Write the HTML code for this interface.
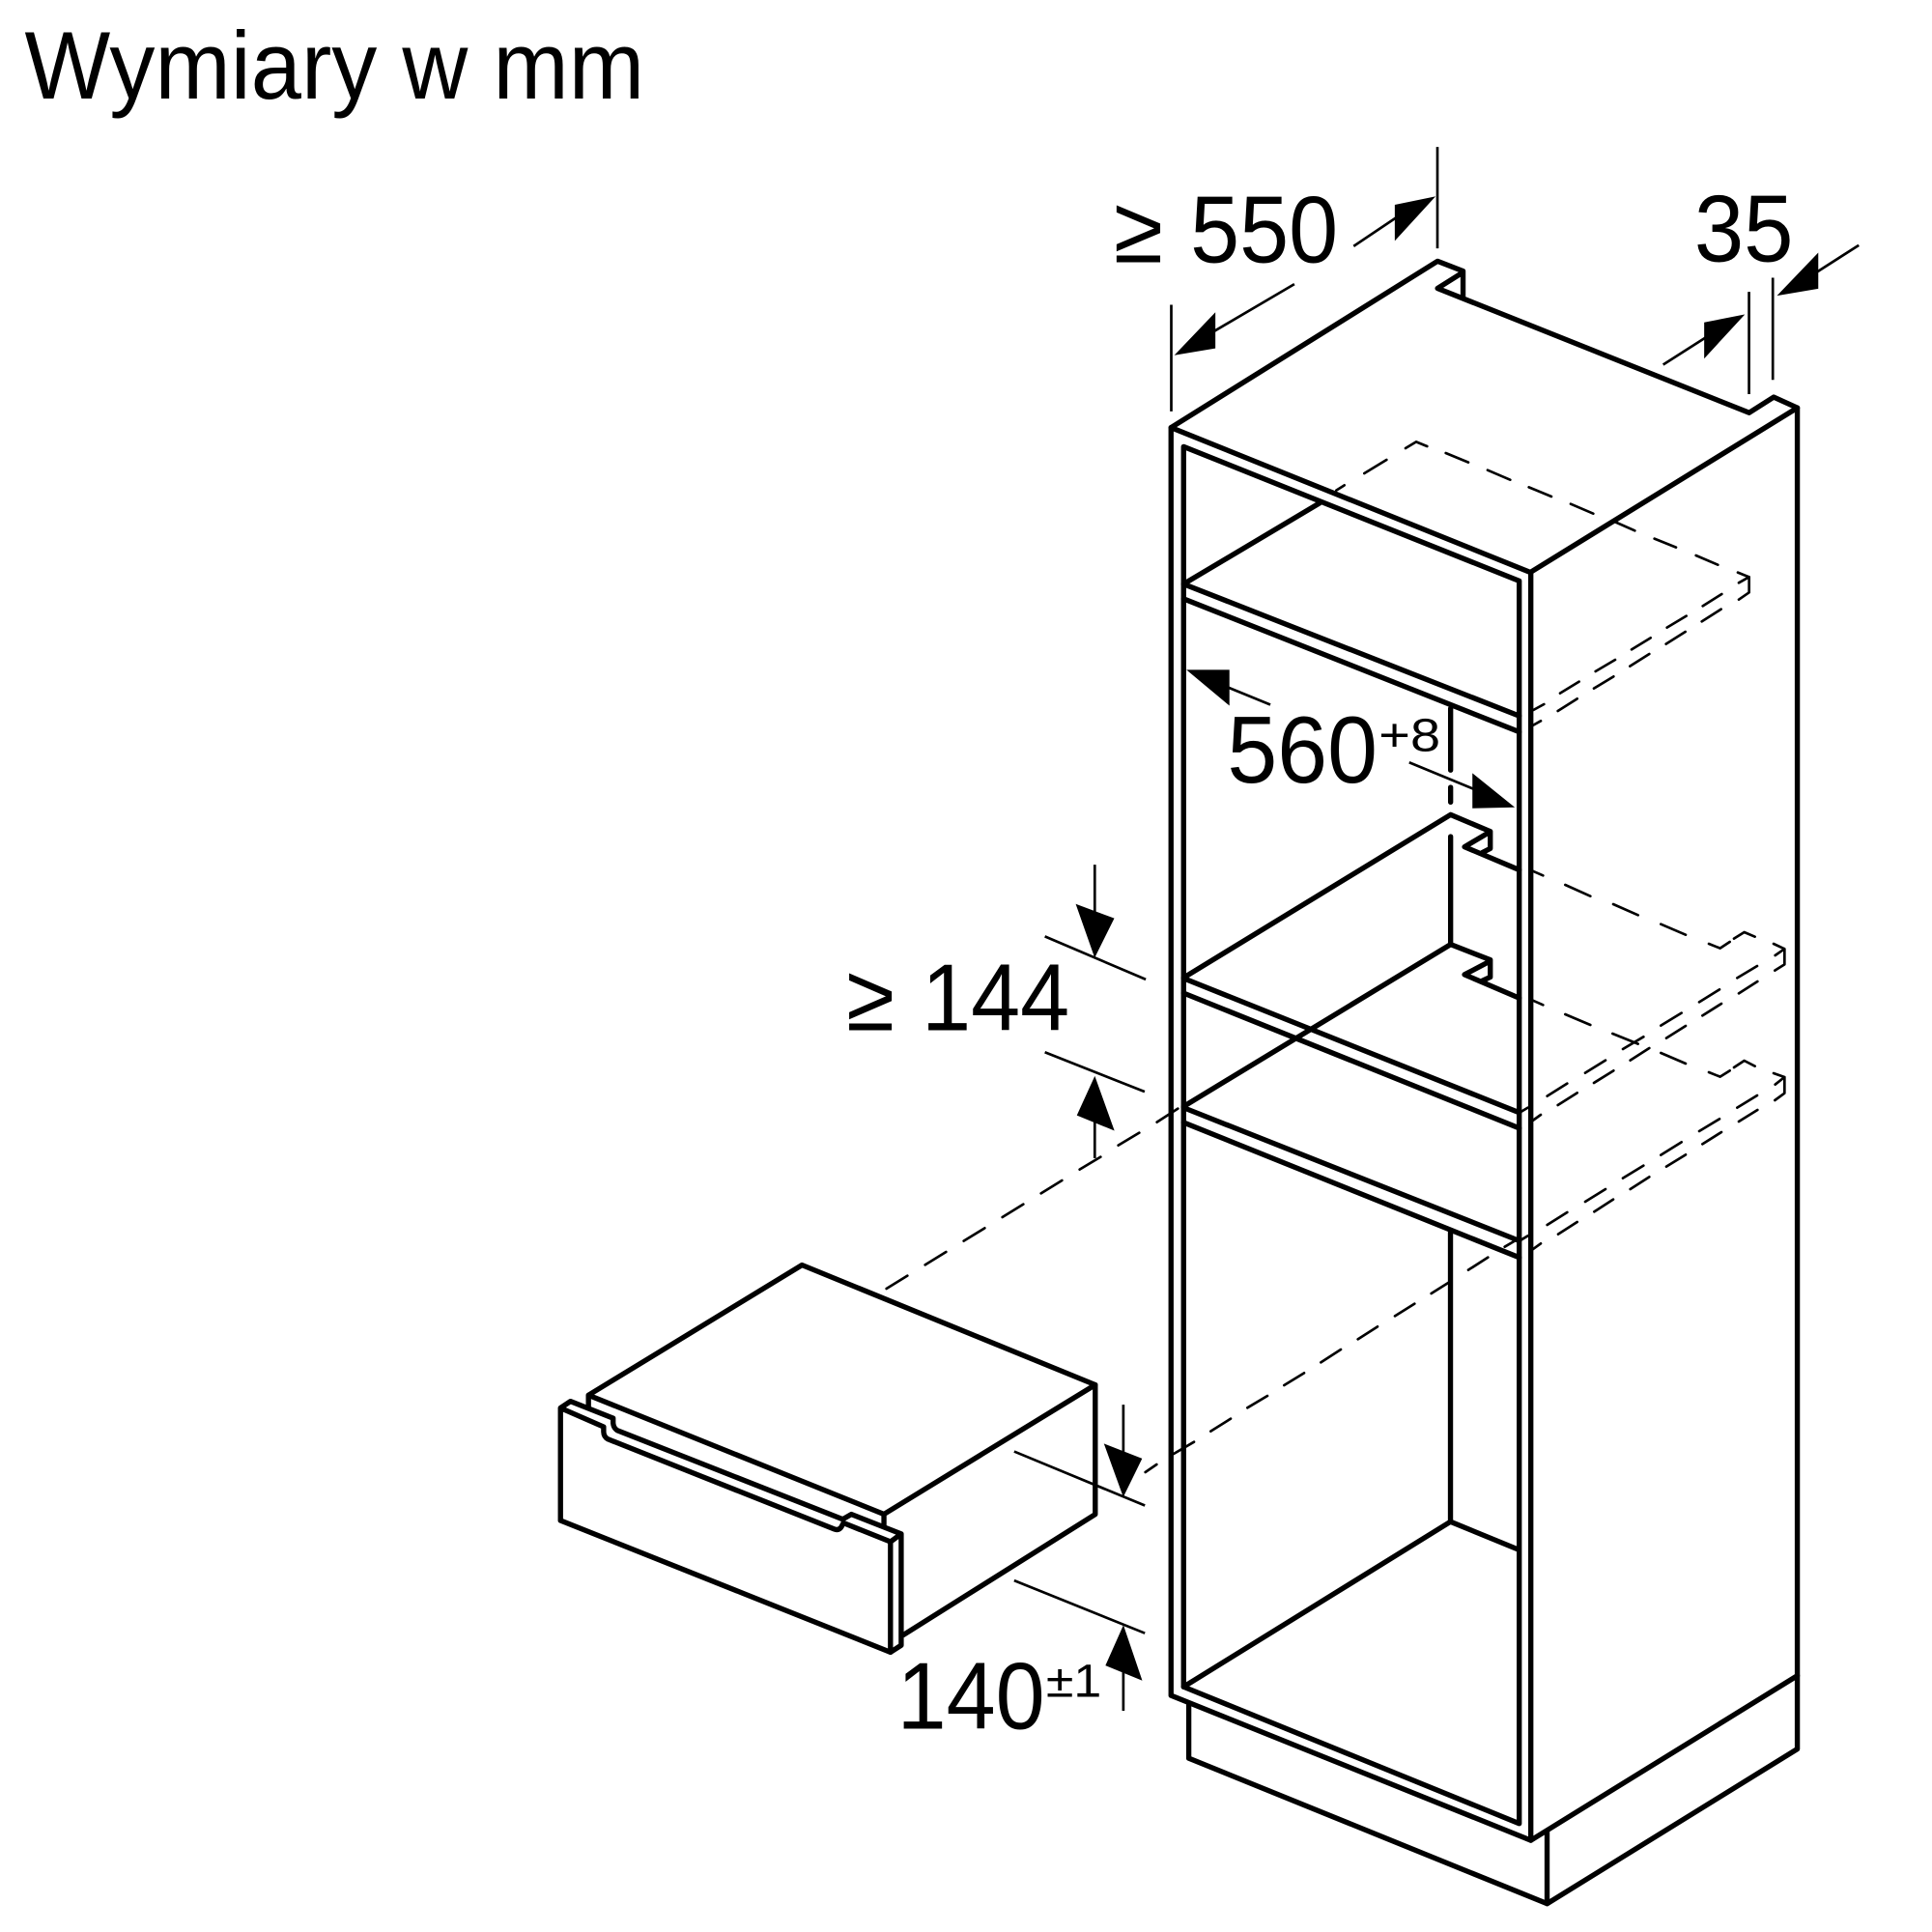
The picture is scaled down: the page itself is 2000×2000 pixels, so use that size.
<!DOCTYPE html>
<html><head><meta charset="utf-8"><style>html,body{margin:0;padding:0;background:#fff}svg{display:block}text{font-family:"Liberation Sans",sans-serif;fill:#000}</style></head><body>
<svg xmlns="http://www.w3.org/2000/svg" width="2000" height="2000" viewBox="0 0 1568 1568">
<rect width="1568" height="1568" fill="#fff"/>
<text x="20" y="80" font-size="78" textLength="503" lengthAdjust="spacingAndGlyphs">Wymiary w mm</text>
<text x="904" y="213" font-size="77" textLength="40" lengthAdjust="spacingAndGlyphs">≥</text>
<text x="966" y="213" font-size="77" textLength="120" lengthAdjust="spacingAndGlyphs">550</text>
<text x="1375" y="212" font-size="77" textLength="80.5" lengthAdjust="spacingAndGlyphs">35</text>
<text x="996" y="635" font-size="77" textLength="122" lengthAdjust="spacingAndGlyphs">560</text>
<text x="1119" y="609.5" font-size="38" textLength="50" lengthAdjust="spacingAndGlyphs">+8</text>
<text x="687" y="836" font-size="77" textLength="39" lengthAdjust="spacingAndGlyphs">≥</text>
<text x="748" y="836" font-size="77" textLength="120" lengthAdjust="spacingAndGlyphs">144</text>
<text x="728" y="1403" font-size="77" textLength="120" lengthAdjust="spacingAndGlyphs">140</text>
<text x="849" y="1377" font-size="38" textLength="45" lengthAdjust="spacingAndGlyphs">±1</text>

<g fill="none" stroke="#000" stroke-width="4.2" stroke-linejoin="round" stroke-linecap="round">
<!-- cabinet top -->
<path d="M950.4 347 L1166.7 212 L1187.4 220 V241 M1187.4 221 L1166.7 234 L1419.6 335 L1439.5 322.3 L1458.7 331 L1242 464.5 L950.4 347"/>
<!-- cabinet verticals -->
<path d="M950.4 347 V1376 L1242.4 1493.6 V464.5"/>
<path d="M1458.7 331 V1419.5 L1255.6 1545 V1486"/>
<path d="M960.6 1369 V362.5 L1233 471.5 V1480 L960.6 1369"/>
<path d="M964.8 1382 V1427 L1255.6 1545"/>
<path d="M1242.4 1493.6 L1458.7 1360"/>
<!-- floor/back -->
<path d="M960.6 1369 L1177.2 1235 L1232 1257.5"/>
<path d="M1177.2 1235 V1000"/>
<path d="M1177.3 575 V625 M1177.3 639 V651 M1177.3 679 V766.5"/>
<!-- shelf 1 -->
<path d="M960.6 474 L1070.8 408.4"/>
<path d="M960.6 474 L1233 581 M960.6 486 L1233 594"/>
<!-- shelf 2 -->
<path d="M960.6 793.5 L1177.3 661.2 L1209.5 674.8 V688.6 L1203 692 M1209.5 675 L1188.6 687.3 L1233 706"/>
<path d="M960.6 794 L1233 903 M960.6 806 L1233 915.6"/>
<!-- shelf 3 -->
<path d="M960.6 898 L1177.3 766.5 L1209.5 779 V793 L1203 796 M1209.5 780 L1188.6 791 L1233 810"/>
<path d="M960.6 899 L1233 1007 M960.6 911 L1233 1020.6"/>
<!-- drawer -->
<path d="M477.6 1132.3 L650.9 1026.7 L888.9 1123.9 L717.4 1228.9 L477.6 1132.3 V1142"/>
<path d="M888.9 1123.9 V1229 L733 1327"/>
<path d="M717.4 1228.9 V1238.7"/>
<path d="M454.9 1142.7 L463 1137.3 L497.6 1151 V1155 Q498 1159 501 1160.9 L684 1233 L691 1229 L731.4 1244.9 V1335.3 L722.7 1340.9 L454.9 1234 V1142.7 L489.9 1158 V1162 Q490 1166 493.4 1168 L677 1241 Q681 1242.5 683 1239 L684.5 1236 L722.7 1251.3 L731.4 1244.9"/>
<path d="M722.7 1251.3 V1340.9"/>
</g>

<!-- dashed: top shelf, left part -->
<g transform="scale(.784) translate(1370,440) scale(.33333)" fill="none" stroke="#000" stroke-width="8" stroke-linecap="round" stroke-linejoin="round">
<path d="M40 203L65 187M127 150L196 108M255 72L288 52L322 66M380 87L450 116M510 140L580 170M638 193L708 222M768 245L838 275"/>
</g>
<!-- dashed: top shelf, right part -->
<g transform="scale(.784) translate(1560,540) scale(.33333)" fill="none" stroke="#000" stroke-width="8" stroke-linecap="round" stroke-linejoin="round">
<path d="M327 -3L397 28M458 53L525 80M587 105L655 134M717 158L752 172V220L720 242M752 172L720 190"/>
<path d="M82 585L115 567M165 533L224 497M275 465L336 429M387 397L446 361M497 329L557 293M608 262L667 225"/>
<path d="M80 633L105 619M158 588L218 550M270 518L331 481M382 449L442 411M494 380L554 342M605 310L665 272"/>
</g>
<!-- dashed: shelves 2 and 3 -->
<g transform="scale(.784) translate(1560,930) scale(.33333)" fill="none" stroke="#000" stroke-width="8" stroke-linecap="round" stroke-linejoin="round">
<path d="M80 -85L112 -71M181 -42L259 -7M330 18L407 52M478 80L555 113M627 141L662 155L692 135M705 125L737 105L770 119M828 141L862 157V205L832 224M862 157L833 177"/>
<path d="M715 247L777 210M597 322L660 283M478 395L542 356M360 468L424 430M243 542L306 503M125 614L187 575M40 665L65 650"/>
<path d="M720 295L778 258M607 364L666 327M495 434L555 396M383 503L442 465M270 573L331 535M158 642L218 604M80 690L105 672"/>
<path d="M78 316L112 331M181 360L259 393M328 420L407 452M478 480L555 513M627 540L662 554L692 535M705 525L737 504L770 521M828 543L862 555V605L832 627M862 555L833 578"/>
<path d="M715 650L777 612M597 723L660 685M478 797L542 757M360 869L424 830M243 942L306 903M125 1014L187 975M40 1063L65 1048"/>
<path d="M720 693L778 657M607 763L666 726M495 833L555 796M383 903L442 865M271 973L330 935M159 1043L218 1005M80 1090L105 1072"/>
</g>
<!-- dashed: drawer to cabinet, upper -->
<g transform="scale(.784) translate(850,880) scale(.33333)" fill="none" stroke="#000" stroke-width="8" stroke-linecap="round">
<path d="M1043 845L1108 803M923 917L988 878M803 992L868 953M683 1066L748 1026M563 1140L628 1100M443 1214L508 1174M323 1288L388 1248M203 1362L268 1322"/>
</g>
<!-- dashed: drawer to cabinet, lower -->
<g transform="scale(.784) translate(1170,1260) scale(.33333)" fill="none" stroke="#000" stroke-width="8" stroke-linecap="round">
<path d="M47 792L82 768M135 735L198 698M250 665L312 626M364 592L426 555M478 522L540 484M592 451L654 411M707 379L768 340M822 307L883 269M935 237L997 198M1050 164L1111 125M1163 92L1197 72"/>
</g>

<!-- thin lines -->
<g fill="none" stroke="#000" stroke-width="2.1">
<path d="M1166.6 119.3 V201.6 M950.6 247.4 V333.9"/>
<path d="M1098.6 199.8 L1140 172 M1050.5 230.6 L980 272"/>
<path d="M1419.5 236.9 V319.9 M1438.8 225.4 V308.3"/>
<path d="M1349.8 296 L1392 269 M1508.6 199 L1468 225"/>
<path d="M997 558 L1031 571.9 M1143.7 618.8 L1200 642"/>
<path d="M888.5 701.8 V760 M848 760 L929.9 794.9"/>
<path d="M848 854 L929 886 M888.5 890 V940"/>
<path d="M911.7 1140 V1195 M823.1 1178 L929.2 1221.9"/>
<path d="M823.1 1282.7 L929.2 1325.5 M911.7 1340 V1388.5"/>
</g>

<!-- arrowheads -->
<g fill="#000" stroke="#000" stroke-width=".8" stroke-linejoin="miter">
<polygon points="1164,160 1132.4,166.5 1132.4,194.5"/>
<polygon points="954.2,287.7 986,254.4 986,282.4"/>
<polygon points="1415,255.8 1383.5,262 1383.5,290"/>
<polygon points="1443.3,239.4 1475.3,206 1475.3,234"/>
<polygon points="964,544 997.4,544 997.4,571.9"/>
<polygon points="1228.3,654.9 1195.4,628.3 1195.4,655.6"/>
<polygon points="888.5,776.3 873.7,734.3 903.8,745.5"/>
<polygon points="888.5,874.3 874.5,905 903.8,917"/>
<polygon points="911.7,1214 896.6,1172.3 926.4,1184"/>
<polygon points="911.7,1320 897.7,1351.5 926.4,1363.3"/>
</g>
</svg>
</body></html>
